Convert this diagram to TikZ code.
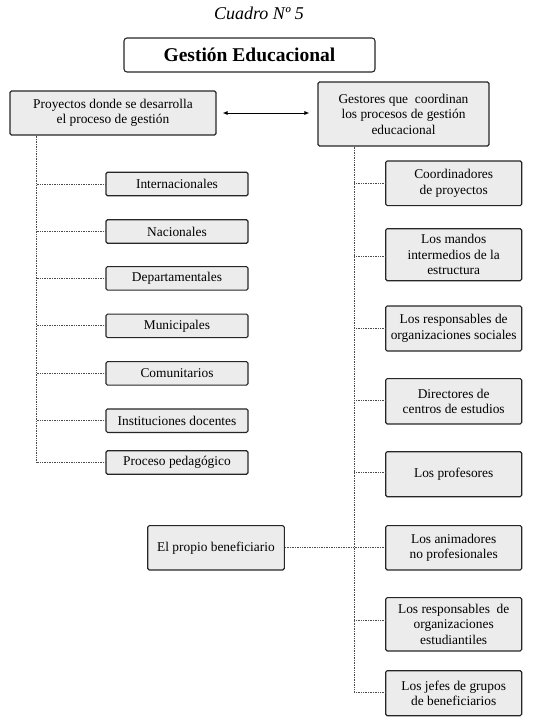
\documentclass[tikz,border=0pt]{standalone}
\usepackage{fontspec}
\setmainfont{Liberation Serif}
\usepackage{tikz}
\usetikzlibrary{arrows.meta,positioning,calc}
\usepackage{xcolor}
\definecolor{BoxGray}{HTML}{ECECEC}
\definecolor{EdgeDark}{HTML}{262626}
\definecolor{DotGray}{HTML}{4A4A4A}

\begin{document}
\begin{tikzpicture}[x=1pt,y=-1pt,
  caja/.style={draw=EdgeDark,fill=BoxGray,line width=1.1pt,rounded corners=1.5pt,
    inner sep=1pt,align=center,font=\fontsize{13.4}{15.5}\selectfont},
  hoja/.style={caja,minimum width=142pt,minimum height=23.5pt},
  gestor/.style={caja,minimum width=136pt},
  punteo/.style={draw=DotGray,densely dotted,line width=0.7pt}]
\useasboundingbox (0,0) rectangle (541,726);
\node[font=\itshape\fontsize{18}{20}\selectfont] (cuadro) at (259,13) {Cuadro Nº 5};
\node[draw=EdgeDark,fill=white,line width=1.1pt,rounded corners=3pt,minimum width=251pt,minimum height=34pt,
  font=\bfseries\fontsize{19.5}{21}\selectfont] (gest) at (249.5,55) {Gestión Educacional};
\node[caja,minimum width=206pt,minimum height=44pt] (proy) at (113,113) {Proyectos donde se desarrolla\\el proceso de gestión};
\node[caja,minimum width=171pt,minimum height=64pt] (gesto) at (403.5,114) {Gestores que\ \ coordinan\\los procesos de gestión\\educacional};
\draw[{Latex[length=5pt,width=4pt]}-{Latex[length=5pt,width=4pt]},line width=0.8pt,shorten <=6pt,shorten >=8pt]
  (proy.east) -- (proy.east -| gesto.west);

% tipos de proyectos
\node[hoja] (inter) at (177,184) {Internacionales};
\node[hoja] (nac) at (177,231.5) {Nacionales};
\node[hoja] (dep) at (177,278.3) {Departamentales};
\node[hoja] (mun) at (177,325.8) {Municipales};
\node[hoja] (com) at (177,373.3) {Comunitarios};
\node[hoja] (inst) at (177,420.7) {Instituciones docentes};
\node[hoja] (ped) at (177,462.5) {Proceso pedagógico};
\coordinate (ejeizq) at (36,462.5);
\draw[punteo] (proy.south -| ejeizq) -- (ejeizq);
\foreach \n in {inter,nac,dep,mun,com,inst,ped}
  \draw[punteo] (\n.west) -- (\n.west -| ejeizq);

% gestores
\node[gestor,minimum height=44.7pt] (coord) at (453.7,183.3) {Coordinadores\\de proyectos};
\node[gestor,minimum height=52pt] (mandos) at (453.7,254.7) {Los mandos\\intermedios de la\\estructura};
\node[gestor,minimum height=45pt] (resp) at (453.7,328.5) {Los responsables de\\organizaciones sociales};
\node[gestor,minimum height=45.3pt] (dir) at (453.7,401.3) {Directores de\\centros de estudios};
\node[gestor,minimum height=45pt] (prof) at (453.7,474.2) {Los profesores};
\node[gestor,minimum height=44.3pt] (anim) at (453.7,547.8) {Los animadores\\no profesionales};
\node[gestor,minimum height=53.3pt] (estud) at (453.7,624.3) {Los responsables\ \ de\\organizaciones\\estudiantiles};
\node[gestor,minimum height=45pt] (jefes) at (453.7,693.2) {Los jefes de grupos\\de beneficiarios};
\node[caja,minimum width=136.6pt,minimum height=44.3pt] (benef) at (216,547.8) {El propio beneficiario};
\coordinate (ejeder) at (354.3,692.3);
\draw[punteo] (gesto.south -| ejeder) -- (ejeder);
\foreach \n/\y in {coord/183,mandos/256.7,resp/328,dir/400.7,prof/472.7,estud/620,jefes/692.3}
  \draw[punteo] (ejeder |- 0,\y) -- (\n.west |- 0,\y);
\draw[punteo] (benef.east) -- (anim.west);
\end{tikzpicture}
\end{document}
